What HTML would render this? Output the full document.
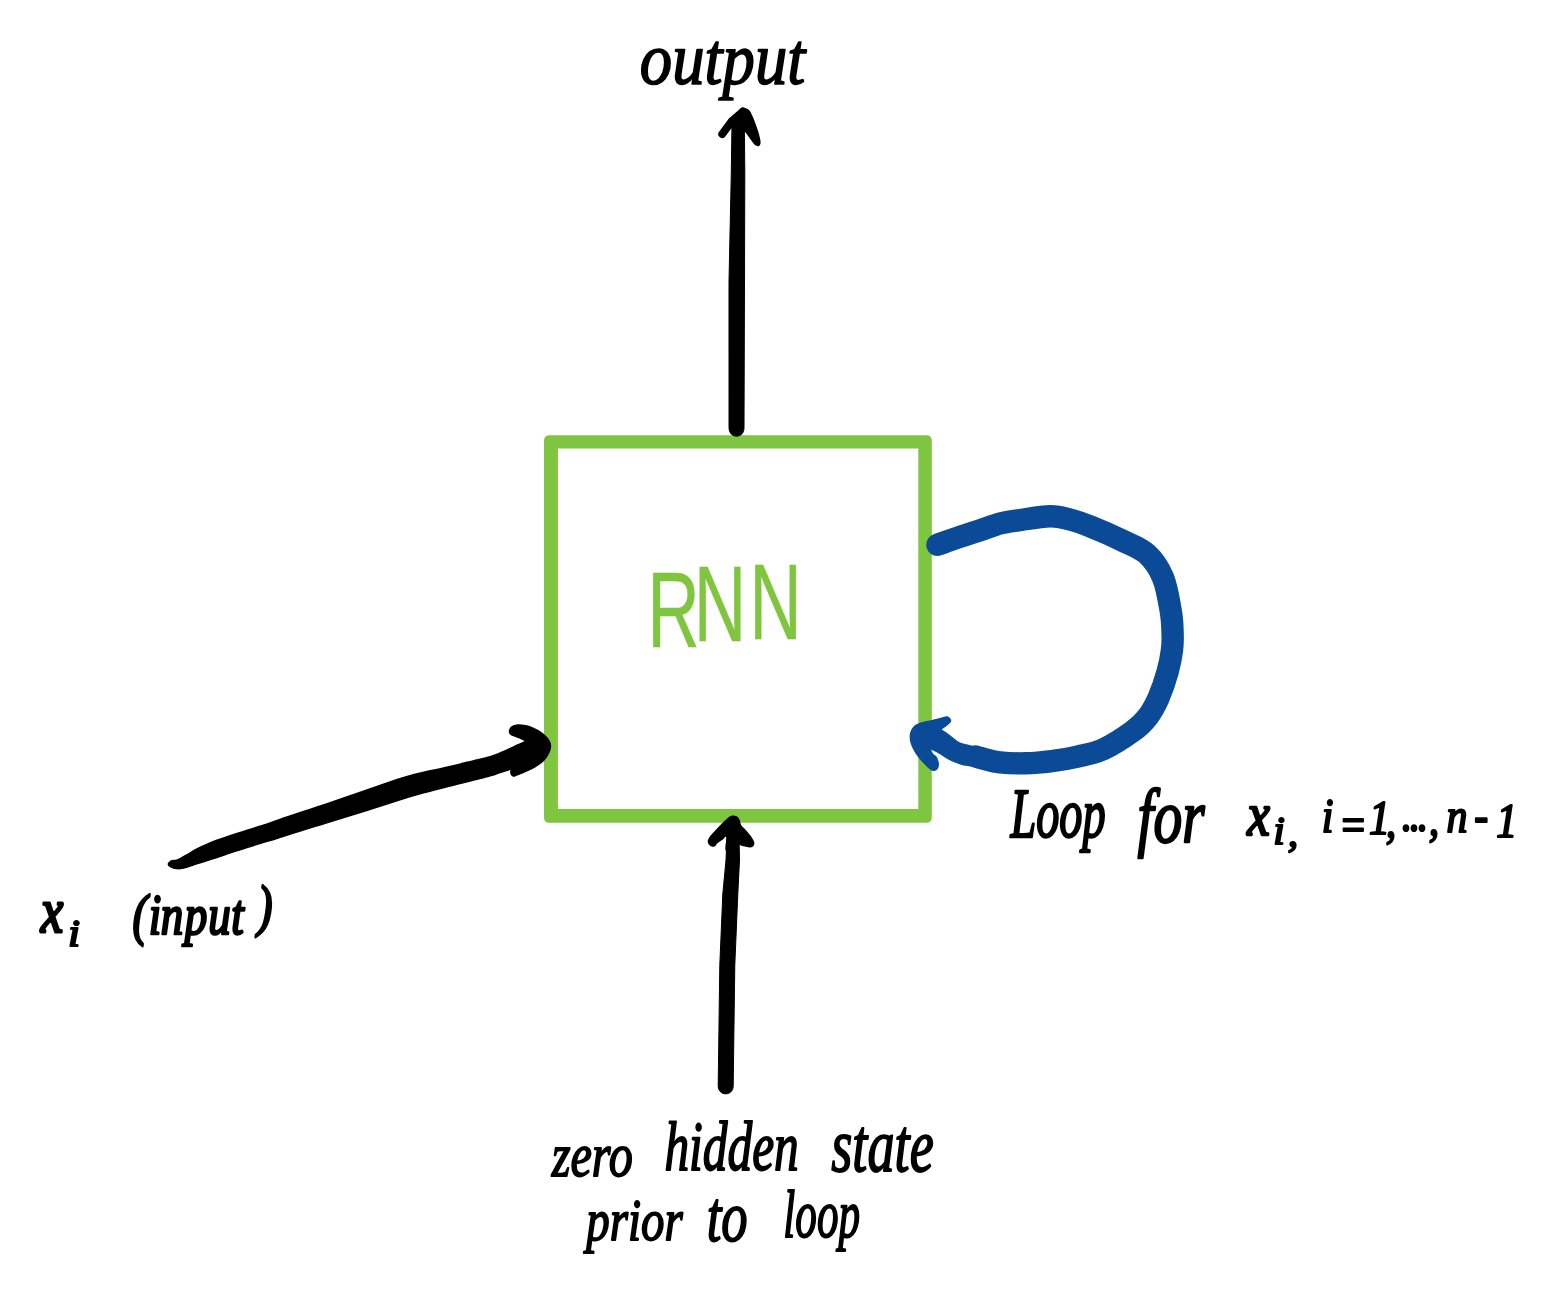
<!DOCTYPE html>
<html lang="en">
<head>
<meta charset="utf-8">
<title>RNN loop diagram</title>
<style>
html,body{margin:0;padding:0;background:#fff;}
body{width:1545px;height:1313px;overflow:hidden;}
svg{display:block;}
.hw{font-family:"Liberation Serif","DejaVu Serif",serif;font-style:italic;fill:#000;stroke:#000;stroke-width:1.6px;stroke-linejoin:round;vector-effect:non-scaling-stroke;}
.gr{font-family:"Liberation Sans","DejaVu Sans",sans-serif;fill:#7fc53f;stroke:#7fc53f;stroke-width:0.3px;vector-effect:non-scaling-stroke;}
</style>
</head>
<body>
<svg width="1545" height="1313" viewBox="0 0 1545 1313">
<rect x="0" y="0" width="1545" height="1313" fill="#ffffff"/>
<!-- green box -->
<path fill="#7fc53f" fill-rule="evenodd" d="M549.5 435.2 H926.3 Q931.8 435.2 931.8 440.7 V817.3 Q931.8 822.8 926.3 822.8 H549.5 Q544 822.8 544 817.3 V440.7 Q544 435.2 549.5 435.2 Z M557.9 448.6 V809 H918.3 V448.6 Z"/>
<!-- top arrow -->
<g fill="none" stroke="#000" stroke-linecap="round" stroke-linejoin="round">
  <path fill="#000" stroke-width="1" d="M729 428 C729 439 744 439 744 428 L744.5 282 L744.8 172 L744.3 120 L738 113 L732 121 L731.3 172 L729 282 Z"/>
  <path d="M722.3 134 L731.5 121.5 L743 111.5" stroke-width="8"/>
</g>
<path fill="#000" d="M740.5 108.5 C742 107 747 107.5 749.5 110.5 C752 113.5 757 127 758.5 132.5 C760 138 761.5 142.5 760 145 C758.5 147.5 756 146 754 144 C751 140 747 134 744.3 131 L736 120 Z"/>
<!-- bottom arrow -->
<g fill="none" stroke="#000" stroke-linecap="round" stroke-linejoin="round">
  <path fill="#000" stroke-width="1" d="M718.2 1086 C718.2 1096.5 733.2 1096.5 733.2 1086 L734.8 965 L737.8 894 L739.5 860 L739 835 L727 835 L726 860 L722.8 894 L719.8 965 Z"/>
</g>
<path fill="#000" d="M733.1 815.4 C734.3 815.4 735.5 815.6 736.6 816.3 C737.7 817.0 738.7 818.0 739.5 819.5 C740.3 821.0 740.2 823.5 741.3 825.3 C742.4 827.0 744.3 828.2 745.9 830.0 C747.5 831.8 749.3 834.1 750.6 835.8 C751.9 837.5 752.9 839.1 753.5 840.4 C754.1 841.6 754.4 842.3 754.4 843.3 C754.4 844.3 753.8 845.6 753.2 846.3 C752.6 847.0 751.8 847.3 750.6 847.4 C749.4 847.5 747.5 847.1 745.9 846.8 C744.3 846.5 742.6 846.1 741.3 845.7 C739.9 845.3 738.4 843.6 737.8 844.5 C737.2 845.4 739.5 849.9 737.5 851.0 C735.5 852.1 727.9 853.3 726.0 851.0 C724.1 848.7 727.0 838.9 726.4 837.0 C725.8 835.1 724.1 838.8 722.6 839.8 C721.1 840.8 718.6 842.3 717.4 843.3 C716.2 844.3 716.4 845.1 715.6 845.7 C714.8 846.3 713.8 846.9 712.7 846.8 C711.6 846.7 710.0 845.8 709.2 845.0 C708.4 844.2 707.9 843.2 707.8 842.2 C707.6 841.2 707.7 840.6 708.3 839.3 C708.9 838.0 709.9 836.5 711.5 834.6 C713.1 832.7 715.8 829.9 718.0 827.6 C720.2 825.3 723.1 822.5 725.0 820.6 C726.9 818.8 728.2 817.4 729.6 816.5 C731.0 815.6 731.9 815.4 733.1 815.4 Z"/>
<!-- left arrow -->
<path fill="#000" d="M167.7 863.7 C168.0 862.6 169.4 861.0 171.0 860.2 C172.6 859.5 174.9 860.1 177.2 859.2 C179.5 858.4 181.8 856.9 185.0 855.1 C188.2 853.3 192.1 850.5 196.6 848.2 C201.1 845.9 206.9 843.3 212.1 841.2 C217.3 839.1 221.9 837.7 227.7 835.7 C233.5 833.8 240.0 831.8 247.1 829.5 C254.2 827.2 263.5 824.4 270.0 822.2 C276.5 820.0 276.5 819.7 286.0 816.5 C295.5 813.3 313.4 807.6 327.0 803.0 C340.6 798.4 354.0 793.6 367.5 789.0 C381.0 784.4 394.4 779.3 408.0 775.5 C421.6 771.7 437.0 768.8 449.0 766.0 C461.0 763.2 472.9 760.3 480.0 758.6 C487.1 756.9 487.6 756.9 491.4 755.6 C495.2 754.3 499.0 752.6 502.8 751.0 C506.6 749.4 510.6 747.4 514.3 745.7 C518.0 744.1 523.1 741.9 524.9 741.1 C526.7 740.3 524.9 741.1 524.9 741.1 C524.9 741.1 526.0 741.6 524.9 741.1 C523.8 740.6 520.2 739.0 518.1 738.1 C516.0 737.2 513.5 736.6 512.0 735.8 C510.5 735.0 509.8 734.4 509.3 733.5 C508.8 732.6 508.6 731.7 508.9 730.5 C509.2 729.3 509.7 727.5 511.0 726.5 C512.3 725.5 514.1 724.6 516.6 724.4 C519.1 724.2 522.7 724.5 525.7 725.1 C528.7 725.7 532.0 726.9 534.8 728.2 C537.6 729.5 540.2 730.9 542.5 732.7 C544.8 734.5 547.0 736.6 548.5 738.8 C550.0 741.0 551.1 743.3 551.2 745.7 C551.3 748.1 550.4 750.9 549.3 753.3 C548.2 755.7 546.7 758.0 544.7 760.2 C542.7 762.4 540.0 764.4 537.1 766.3 C534.2 768.2 530.8 770.0 527.2 771.6 C523.7 773.2 518.3 775.4 515.8 776.2 C513.3 777.0 513.0 776.7 512.0 776.2 C511.1 775.7 510.4 774.1 510.1 773.1 C509.9 772.1 510.4 770.5 510.5 770.0 C510.6 769.5 511.8 769.6 510.5 770.0 C509.2 770.4 506.0 771.4 502.8 772.4 C499.6 773.4 495.2 775.1 491.4 776.2 C487.6 777.3 487.1 777.4 480.0 779.2 C472.9 781.0 461.0 783.9 449.0 787.0 C437.0 790.1 421.6 794.0 408.0 798.0 C394.4 802.0 381.0 806.8 367.5 811.0 C354.0 815.2 340.6 819.3 327.0 823.5 C313.4 827.7 295.5 833.2 286.0 836.2 C276.5 839.2 276.5 839.3 270.0 841.3 C263.5 843.3 254.2 846.0 247.1 848.2 C240.0 850.4 233.5 852.5 227.7 854.4 C221.9 856.3 217.9 857.9 212.1 859.8 C206.3 861.7 197.6 864.5 192.7 866.0 C187.8 867.5 185.6 868.6 182.6 869.1 C179.6 869.6 177.1 869.5 174.9 869.1 C172.7 868.7 170.6 867.7 169.4 866.8 C168.2 865.9 167.4 864.8 167.7 863.7 Z"/>
<!-- blue loop -->
<g fill="none" stroke="#0b4a96" stroke-linecap="round" stroke-linejoin="round">
  <path d="M937.5 544.8 C940.9 543.6 950.9 539.9 958.0 537.5 C965.1 535.1 973.0 532.6 980.0 530.3 C987.0 528.0 993.7 525.2 1000.0 523.5 C1006.3 521.8 1009.6 521.5 1018.0 520.3 C1026.4 519.1 1041.6 516.3 1050.3 516.2 C1059.0 516.1 1063.2 517.7 1070.0 519.5 C1076.8 521.3 1082.8 523.4 1091.4 526.9 C1100.1 530.4 1112.6 535.8 1121.9 540.3 C1131.2 544.8 1140.2 547.8 1147.0 554.0 C1153.8 560.2 1159.0 568.0 1163.0 577.6 C1167.0 587.2 1169.3 602.5 1170.9 611.9 C1172.5 621.3 1172.4 627.6 1172.6 634.0 C1172.8 640.4 1172.8 643.7 1172.0 650.0 C1171.2 656.3 1169.8 663.8 1167.6 671.8 C1165.4 679.8 1161.9 690.2 1158.6 697.7 C1155.3 705.2 1151.9 711.5 1147.6 717.1 C1143.3 722.7 1140.0 726.0 1132.7 731.3 C1125.4 736.6 1112.8 744.9 1103.6 749.1 C1094.4 753.3 1086.3 754.6 1077.7 756.6 C1069.1 758.6 1060.4 760.0 1051.8 761.1 C1043.2 762.2 1034.5 763.1 1025.9 763.3 C1017.3 763.5 1007.0 763.1 1000.0 762.4 C993.0 761.6 988.0 759.8 984.0 758.8 C980.0 757.8 977.3 757.0 976.0 756.6" stroke-width="22.4"/>
</g>
<path fill="#0b4a96" d="M947.8 716.4 C949.4 716.8 950.9 718.8 951.2 719.9 C951.5 721.0 950.7 722.2 949.8 723.3 C948.9 724.4 947.1 725.7 945.7 726.7 C944.3 727.7 942.3 729.0 941.6 729.5 C940.9 730.0 941.6 729.5 941.6 729.5 C941.6 729.5 940.7 728.9 941.6 729.5 C942.5 730.1 945.2 731.5 947.1 732.9 C949.0 734.3 951.1 736.1 953.3 737.7 C955.5 739.3 957.2 741.2 960.1 742.5 C963.0 743.8 966.8 744.4 970.4 745.2 C974.0 746.1 979.7 747.0 982.0 747.6 C984.3 748.2 983.8 745.6 984.1 749.0 C984.5 752.4 984.5 764.5 984.1 767.8 C983.8 771.1 984.3 768.8 982.0 768.6 C979.7 768.4 974.0 767.2 970.4 766.5 C966.8 765.8 963.5 765.4 960.1 764.4 C956.7 763.4 952.6 761.7 949.8 760.3 C946.9 758.9 945.3 757.6 943.0 756.2 C940.7 754.8 938.2 753.2 936.1 752.1 C934.0 751.0 931.5 749.8 930.6 749.3 C929.7 748.8 930.6 749.3 930.6 749.3 C930.6 749.3 930.1 748.5 930.6 749.3 C931.1 750.1 932.4 752.8 933.4 754.1 C934.4 755.4 935.9 755.4 936.8 756.9 C937.7 758.4 938.7 761.3 938.9 763.1 C939.1 764.9 938.9 766.6 938.2 767.9 C937.5 769.2 936.1 770.6 934.8 770.9 C933.5 771.2 932.2 770.9 930.6 769.9 C929.0 768.9 927.1 767.0 925.2 765.1 C923.3 763.2 921.0 760.8 919.0 758.3 C917.0 755.8 914.9 752.6 913.5 750.0 C912.1 747.4 911.0 744.9 910.4 742.5 C909.8 740.1 909.5 737.8 909.7 735.6 C909.9 733.4 910.4 731.3 911.4 729.5 C912.4 727.7 913.8 726.0 915.6 724.7 C917.4 723.4 919.7 722.7 922.4 721.9 C925.1 721.1 928.8 720.6 932.0 719.9 C935.2 719.2 939.0 718.1 941.6 717.5 C944.2 716.9 946.2 716.0 947.8 716.4 Z"/>
<!-- text -->
<g opacity="0.999">
<text class="gr" text-anchor="middle" transform="scale(0.68,1)" font-size="107" x="990.4 1058.8 1140.4" y="647.2 641 639">RNN</text>
<text class="hw" transform="translate(639.86,84.00) scale(0.6472,0.7400)" font-size="100">output</text>
<text class="hw" style="stroke-width:2.6px" transform="translate(40.81,931.60) scale(0.5067,0.6300)" font-size="100">x</text>
<text class="hw" style="stroke-width:2.2px" transform="translate(68.29,946.00) scale(0.4200,0.3750)" font-size="100">i</text>
<text class="hw" style="stroke-width:2.4px" text-anchor="middle" transform="scale(0.4500,0.5800)" font-size="100" x="311.1 344.4 382.2 435.6 487.8 527.8 588.9" y="1610.3 1611.2 1611.2 1611.2 1611.2 1611.2 1594.8">(input)</text>
<text class="hw" transform="translate(551.68,1175.50) scale(0.4819,0.6200)" font-size="100">zero</text>
<text class="hw" transform="translate(664.42,1170.00) scale(0.4939,0.7000)" font-size="100">hidden</text>
<text class="hw" transform="translate(831.26,1171.00) scale(0.5425,0.7600)" font-size="100">state</text>
<text class="hw" transform="translate(586.31,1240.00) scale(0.4689,0.6000)" font-size="100">prior</text>
<text class="hw" transform="translate(706.69,1241.00) scale(0.5268,0.7200)" font-size="100">to</text>
<text class="hw" transform="translate(783.34,1237.00) scale(0.4318,0.6800)" font-size="100">loop</text>
<text class="hw" style="stroke-width:2.0px" transform="translate(1010.46,837.00) scale(0.4631,0.7000)" font-size="100">Loop</text>
<text class="hw" style="stroke-width:2.0px" transform="translate(1137.42,842.00) scale(0.5750,0.7600)" font-size="100">for</text>
<text class="hw" style="stroke-width:2.4px" transform="translate(1247.21,835.30) scale(0.5089,0.6100)" font-size="100">x</text>
<text class="hw" style="stroke-width:2.0px" text-anchor="middle" transform="scale(0.4200,0.4000)" font-size="100" x="3045.2 3078.6" y="2110.0 2115.0">i,</text>
<text class="hw" style="stroke-width:2.0px" text-anchor="middle" transform="scale(0.4200,0.4900)" font-size="100" x="3160.7 3221.0 3284.5 3311.9 3350.0 3369.0 3388.1 3414.3 3469.0 3526.9 3587.4" y="1698.8 1716.3 1702.9 1708.2 1696.9 1696.9 1696.9 1703.1 1698.8 1698.6 1708.2">i=1,...,n-1</text>
</g>
</svg>
</body>
</html>
